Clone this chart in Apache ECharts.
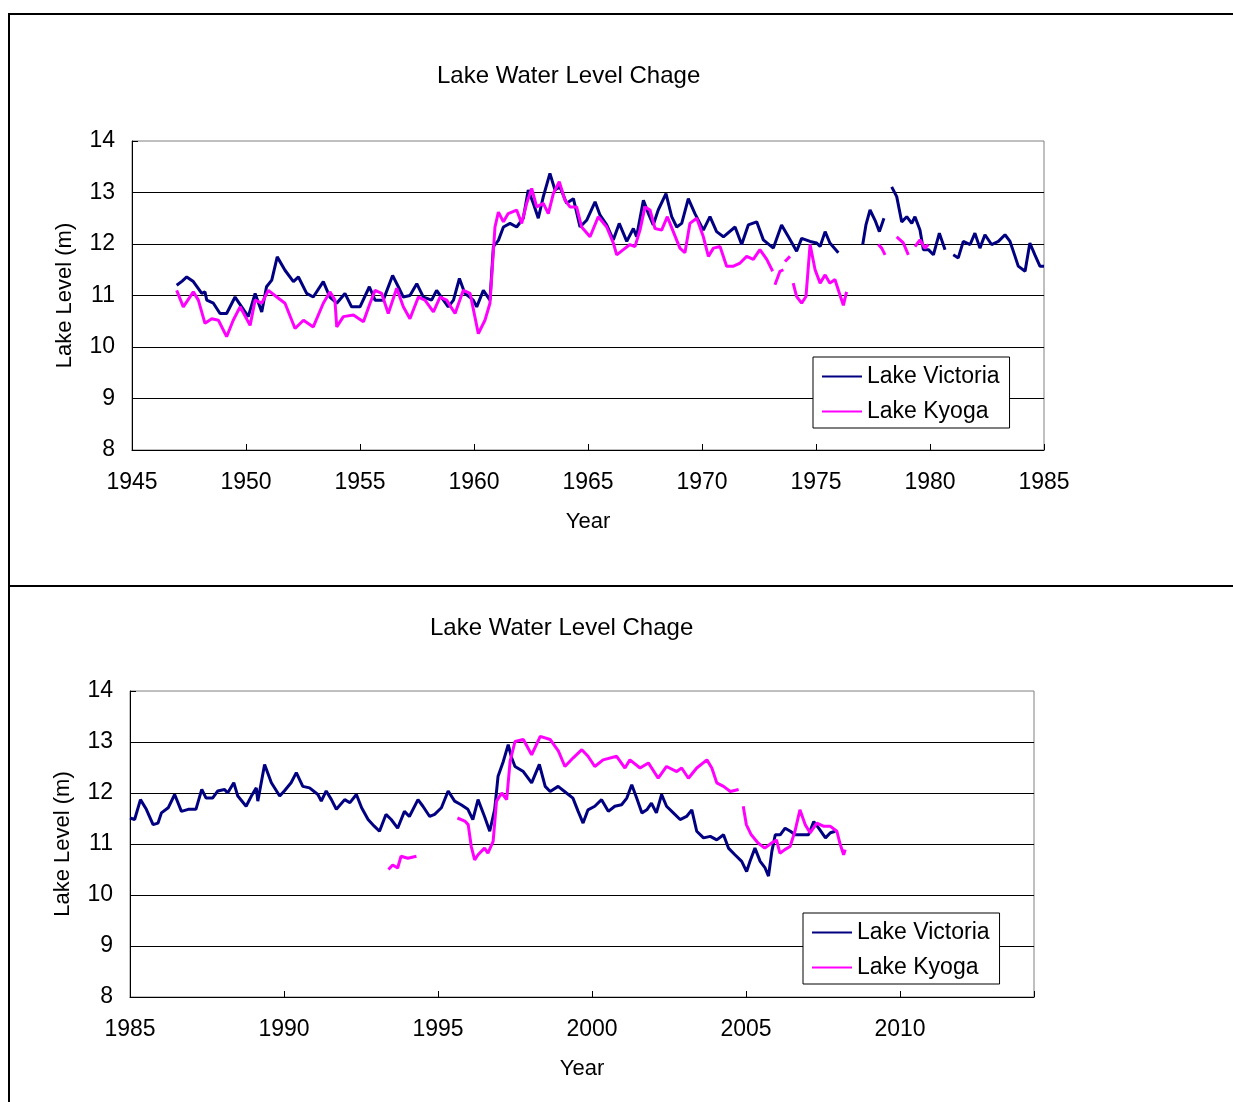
<!DOCTYPE html>
<html>
<head>
<meta charset="utf-8">
<title>Lake Water Level Chage</title>
<script src="https://cdn.jsdelivr.net/npm/echarts@6.0.0/dist/echarts.min.js"></script>
<style>
  html, body { margin: 0; padding: 0; background: #fff; }
  #wrap { position: relative; width: 1233px; height: 1102px; overflow: hidden; }
  .frame { position: absolute; left: 8px; width: 1300px; border-top: 2px solid #000; border-left: 2px solid #000; }
  #chart { position: absolute; left: 0; top: 0; width: 1233px; height: 1102px; }
</style>
</head>
<body>
<div id="wrap">
  <div class="frame" style="top:13px;height:572px"></div>
  <div class="frame" style="top:585px;height:600px"></div>
  <div id="chart"></div>
</div>
<script>
// 1947 - 1985
const victoriaA = [
  [1946.96, 11.20], [1947.2, 11.28], [1947.4, 11.36], [1947.69, 11.27], [1948.06, 11.04], [1948.2, 11.07],
  [1948.28, 10.91], [1948.57, 10.85], [1948.86, 10.65], [1949.15, 10.65], [1949.52, 10.97], [1949.81, 10.78],
  [1950.1, 10.59], [1950.4, 11.04], [1950.69, 10.68], [1950.9, 11.17], [1951.13, 11.30], [1951.37, 11.75],
  [1951.71, 11.49], [1952.08, 11.27], [1952.3, 11.36], [1952.66, 11.04], [1952.95, 10.97], [1953.39, 11.27],
  [1953.68, 10.97], [1953.98, 10.85], [1954.34, 11.04], [1954.63, 10.78], [1955.0, 10.78], [1955.41, 11.17],
  [1955.66, 10.91], [1956.02, 10.91], [1956.43, 11.39], [1956.68, 11.17], [1956.9, 10.97], [1957.19, 11.0],
  [1957.49, 11.23], [1957.78, 10.97], [1958.14, 10.91], [1958.36, 11.10], [1958.66, 10.91], [1958.87, 10.78],
  [1959.1, 10.91], [1959.36, 11.33], [1959.6, 11.04], [1959.97, 10.91], [1960.12, 10.78], [1960.41, 11.10],
  [1960.7, 10.91], [1960.85, 11.95], [1961.07, 12.07], [1961.29, 12.33], [1961.58, 12.40], [1961.87, 12.33],
  [1962.16, 12.50], [1962.38, 13.05], [1962.6, 12.79], [1962.82, 12.50], [1963.04, 12.92], [1963.33, 13.37],
  [1963.55, 13.05], [1963.77, 13.11], [1964.06, 12.79], [1964.36, 12.88], [1964.65, 12.33], [1964.94, 12.46],
  [1965.31, 12.82], [1965.53, 12.56], [1965.82, 12.37], [1966.11, 12.08], [1966.37, 12.40], [1966.7, 12.05],
  [1966.99, 12.30], [1967.13, 12.14], [1967.43, 12.85], [1967.65, 12.59], [1967.86, 12.37], [1968.08, 12.66],
  [1968.42, 12.98], [1968.67, 12.53], [1968.89, 12.33], [1969.11, 12.40], [1969.4, 12.88], [1969.69, 12.59],
  [1970.06, 12.27], [1970.35, 12.53], [1970.64, 12.24], [1970.94, 12.14], [1971.45, 12.33], [1971.74, 11.99],
  [1972.03, 12.37], [1972.4, 12.43], [1972.69, 12.08], [1973.13, 11.92], [1973.49, 12.37], [1973.79, 12.14],
  [1974.15, 11.86], [1974.37, 12.11], [1974.74, 12.05], [1975.03, 12.02], [1975.18, 11.95], [1975.4, 12.24],
  [1975.61, 12.02], [1975.98, 11.83], [1976.5, null],
  [1977.05, 11.99], [1977.19, 12.37], [1977.37, 12.66], [1977.59, 12.46], [1977.78, 12.24], [1977.98, 12.50],
  [1978.15, null],
  [1978.32, 13.11], [1978.54, 12.92], [1978.76, 12.43], [1978.98, 12.53], [1979.2, 12.40], [1979.34, 12.53],
  [1979.56, 12.27], [1979.71, 11.89], [1979.93, 11.89], [1980.15, 11.79], [1980.41, 12.21], [1980.66, 11.89],
  [1980.85, null],
  [1981.02, 11.79], [1981.24, 11.73], [1981.46, 12.05], [1981.76, 11.99], [1981.97, 12.21], [1982.19, 11.92],
  [1982.41, 12.18], [1982.7, 11.99], [1983.0, 12.05], [1983.29, 12.18], [1983.51, 12.05], [1983.73, 11.76],
  [1983.87, 11.57], [1984.17, 11.47], [1984.38, 12.02], [1984.6, 11.79], [1984.82, 11.57], [1985.0, 11.57]
]

const kyogaA = [
  [1946.96, 11.10], [1947.25, 10.78], [1947.69, 11.07], [1947.91, 10.91], [1948.2, 10.46], [1948.5, 10.55],
  [1948.79, 10.52], [1949.15, 10.20], [1949.44, 10.52], [1949.74, 10.78], [1950.18, 10.42], [1950.4, 10.91],
  [1950.69, 10.85], [1950.98, 11.10], [1951.35, 10.97], [1951.71, 10.85], [1952.15, 10.36], [1952.52, 10.52],
  [1952.95, 10.39], [1953.39, 10.85], [1953.68, 11.07], [1953.9, 10.91], [1953.98, 10.39], [1954.27, 10.59],
  [1954.71, 10.62], [1955.15, 10.49], [1955.44, 10.85], [1955.66, 11.10], [1955.95, 11.04], [1956.24, 10.65],
  [1956.61, 11.14], [1956.9, 10.78], [1957.19, 10.55], [1957.56, 10.97], [1957.85, 10.91], [1958.22, 10.68],
  [1958.51, 10.97], [1958.8, 10.91], [1959.17, 10.65], [1959.53, 11.10], [1959.83, 11.04], [1960.19, 10.26],
  [1960.48, 10.52], [1960.7, 10.85], [1960.92, 12.33], [1961.07, 12.62], [1961.29, 12.43], [1961.5, 12.59],
  [1961.87, 12.66], [1962.09, 12.40], [1962.31, 12.79], [1962.53, 13.08], [1962.75, 12.72], [1963.04, 12.79],
  [1963.26, 12.59], [1963.48, 12.98], [1963.74, 13.21], [1963.99, 12.85], [1964.21, 12.72], [1964.5, 12.72],
  [1964.72, 12.33], [1965.09, 12.14], [1965.45, 12.53], [1965.82, 12.33], [1966.11, 12.02], [1966.26, 11.79],
  [1966.55, 11.89], [1966.84, 11.99], [1967.06, 11.95], [1967.28, 12.27], [1967.5, 12.72], [1967.72, 12.66],
  [1967.94, 12.30], [1968.23, 12.27], [1968.48, 12.53], [1968.74, 12.24], [1969.03, 11.92], [1969.25, 11.83],
  [1969.47, 12.40], [1969.77, 12.50], [1970.06, 12.14], [1970.28, 11.76], [1970.5, 11.92], [1970.79, 11.95],
  [1971.08, 11.57], [1971.38, 11.57], [1971.67, 11.63], [1971.96, 11.76], [1972.25, 11.70], [1972.54, 11.89],
  [1972.84, 11.70], [1973.1, 11.47], [1973.15, null],
  [1973.2, 11.21], [1973.42, 11.47], [1973.57, 11.50], [1973.6, null],
  [1973.64, 11.66], [1973.86, 11.76], [1973.93, null],
  [1974.0, 11.24], [1974.15, 10.98], [1974.37, 10.85], [1974.56, 10.98], [1974.74, 11.99], [1974.96, 11.50],
  [1975.18, 11.24], [1975.4, 11.40], [1975.61, 11.24], [1975.83, 11.31], [1976.05, 11.01], [1976.2, 10.81],
  [1976.34, 11.07], [1977.0, null],
  [1977.73, 11.99], [1977.88, 11.92], [1978.03, 11.79], [1978.3, null],
  [1978.54, 12.14], [1978.83, 12.02], [1979.05, 11.79], [1979.2, null],
  [1979.34, 11.95], [1979.56, 12.08], [1979.78, 11.92], [1979.93, 11.99]
]

// 1985 - 2008
const victoriaB = [
  [1985.0, 11.51], [1985.15, 11.48], [1985.34, 11.87], [1985.53, 11.68], [1985.75, 11.38], [1985.91, 11.41],
  [1986.02, 11.61], [1986.24, 11.71], [1986.45, 11.97], [1986.67, 11.64], [1986.89, 11.68], [1987.14, 11.68],
  [1987.33, 12.07], [1987.47, 11.90], [1987.68, 11.90], [1987.85, 12.04], [1988.07, 12.07], [1988.17, 12.0],
  [1988.37, 12.20], [1988.5, 11.94], [1988.77, 11.74], [1988.94, 11.94], [1989.1, 12.10], [1989.15, 11.84],
  [1989.37, 12.56], [1989.59, 12.20], [1989.86, 11.94], [1990.01, 12.04], [1990.23, 12.20], [1990.4, 12.40],
  [1990.61, 12.13], [1990.83, 12.10], [1991.1, 11.97], [1991.21, 11.84], [1991.37, 12.04], [1991.54, 11.87],
  [1991.7, 11.68], [1991.97, 11.87], [1992.14, 11.81], [1992.35, 11.97], [1992.52, 11.71], [1992.73, 11.48],
  [1992.93, 11.35], [1993.1, 11.25], [1993.31, 11.58], [1993.48, 11.48], [1993.69, 11.31], [1993.91, 11.64],
  [1994.07, 11.54], [1994.35, 11.87], [1994.51, 11.74], [1994.73, 11.54], [1994.89, 11.58], [1995.11, 11.71],
  [1995.33, 12.04], [1995.54, 11.84], [1995.75, 11.77], [1995.97, 11.68], [1996.13, 11.48], [1996.3, 11.87],
  [1996.51, 11.54], [1996.68, 11.25], [1996.84, 11.68], [1996.95, 12.33], [1997.12, 12.62], [1997.28, 12.95],
  [1997.39, 12.69], [1997.5, 12.52], [1997.77, 12.42], [1998.04, 12.20], [1998.29, 12.56], [1998.48, 12.13],
  [1998.64, 12.03], [1998.9, 12.13], [1999.17, 12.0], [1999.38, 11.90], [1999.55, 11.64], [1999.71, 11.41],
  [1999.87, 11.67], [2000.09, 11.74], [2000.31, 11.87], [2000.53, 11.64], [2000.74, 11.74], [2000.96, 11.77],
  [2001.13, 11.90], [2001.29, 12.16], [2001.45, 11.90], [2001.62, 11.61], [2001.78, 11.67], [2001.93, 11.80],
  [2002.09, 11.61], [2002.26, 11.97], [2002.42, 11.74], [2002.64, 11.61], [2002.86, 11.48], [2003.07, 11.54],
  [2003.24, 11.67], [2003.4, 11.25], [2003.62, 11.12], [2003.84, 11.15], [2004.05, 11.08], [2004.27, 11.18],
  [2004.43, 10.92], [2004.64, 10.79], [2004.86, 10.66], [2005.02, 10.46], [2005.13, 10.66], [2005.29, 10.92],
  [2005.46, 10.66], [2005.62, 10.53], [2005.73, 10.37], [2005.84, 10.86], [2005.95, 11.18], [2006.11, 11.18],
  [2006.27, 11.31], [2006.44, 11.25], [2006.6, 11.18], [2006.82, 11.18], [2007.03, 11.18], [2007.2, 11.44],
  [2007.36, 11.31], [2007.58, 11.12], [2007.74, 11.22], [2007.9, 11.25]
]

const kyogaB = [
  [1993.39, 10.50], [1993.53, 10.59], [1993.69, 10.53], [1993.8, 10.76], [1994.02, 10.72], [1994.3, 10.76],
  [1994.6, null],
  [1995.63, 11.51], [1995.87, 11.45], [1995.98, 11.38], [1996.08, 10.95], [1996.19, 10.69], [1996.3, 10.79],
  [1996.51, 10.92], [1996.62, 10.82], [1996.79, 11.05], [1996.9, 11.84], [1997.07, 12.0], [1997.23, 11.87],
  [1997.34, 12.62], [1997.5, 13.01], [1997.77, 13.05], [1998.04, 12.75], [1998.32, 13.11], [1998.64, 13.05],
  [1998.91, 12.82], [1999.12, 12.52], [1999.39, 12.69], [1999.67, 12.85], [1999.87, 12.72], [2000.09, 12.52],
  [2000.36, 12.65], [2000.8, 12.72], [2001.07, 12.49], [2001.23, 12.65], [2001.56, 12.49], [2001.83, 12.59],
  [2002.15, 12.29], [2002.42, 12.52], [2002.75, 12.42], [2002.91, 12.49], [2003.13, 12.29], [2003.4, 12.49],
  [2003.73, 12.65], [2003.89, 12.49], [2004.05, 12.20], [2004.27, 12.13], [2004.49, 12.03], [2004.76, 12.07],
  [2004.85, null],
  [2004.91, 11.74], [2005.01, 11.38], [2005.17, 11.18], [2005.39, 11.02], [2005.61, 10.92], [2005.83, 11.02],
  [2005.99, 11.08], [2006.1, 10.82], [2006.26, 10.89], [2006.43, 10.95], [2006.59, 11.25], [2006.75, 11.67],
  [2006.92, 11.38], [2007.08, 11.22], [2007.3, 11.41], [2007.51, 11.35], [2007.73, 11.35], [2007.95, 11.25],
  [2008.06, 10.99], [2008.17, 10.79], [2008.22, 10.89]
]

const seriesNames = ['Lake Victoria', 'Lake Kyoga']
const titleText = 'Lake Water Level Chage'
const yTicks = { min: 8, max: 14, interval: 1 }

const FONT = "'Liberation Sans', Arial, sans-serif"
const COLORS = ['#000080', '#ff00ff']

// null -> '-' so the line breaks
const toData = (rows) => rows.map(([x, y]) => [x, y === null ? '-' : y])

const textStyle = { fontFamily: FONT, fontSize: 23, color: '#000' }

const getXAxis = (gridIndex, min, max) => ({
  type: 'value',
  gridIndex,
  min,
  max,
  interval: 5,
  name: 'Year',
  nameLocation: 'middle',
  nameGap: 61,
  nameTextStyle: { ...textStyle, fontSize: 22 },
  axisLine: { onZero: false, lineStyle: { color: '#000', width: 1 } },
  axisTick: { inside: true, length: 6, lineStyle: { color: '#000' } },
  axisLabel: {
    ...textStyle,
    margin: 21,
    // 2014.35 is only the axis end, no label there
    formatter: (v) => (v % 5 === 0 ? String(v) : '')
  },
  splitLine: { show: false }
})

const getYAxis = (gridIndex) => ({
  type: 'value',
  gridIndex,
  ...yTicks,
  name: 'Lake Level (m)',
  nameLocation: 'middle',
  nameRotate: 90,
  nameGap: 56,
  nameTextStyle: { ...textStyle, fontSize: 22 },
  axisLine: { show: true, lineStyle: { color: '#000', width: 1 } },
  axisTick: { show: true, inside: true, length: 6, lineStyle: { color: '#000' } },
  axisLabel: { ...textStyle, margin: 17 },
  splitLine: { show: true, showMaxLine: false, lineStyle: { color: '#000', width: 1 } }
})

const getLegend = (left, top) => ({
  orient: 'vertical',
  left,
  top,
  data: seriesNames,
  icon: 'rect',
  itemWidth: 40,
  itemHeight: 2,
  itemGap: 12,
  padding: [8, 10, 5, 9],
  backgroundColor: '#fff',
  borderColor: '#000',
  borderWidth: 1,
  borderRadius: 0,
  textStyle: { ...textStyle, lineHeight: 23 }
})

const getLine = (name, data, idx, colorIdx) => ({
  name,
  type: 'line',
  xAxisIndex: idx,
  yAxisIndex: idx,
  data: toData(data),
  showSymbol: false,
  symbol: 'none',
  connectNulls: false,
  color: COLORS[colorIdx],
  lineStyle: { width: 3, color: COLORS[colorIdx] }
})

const chart = echarts.init(document.getElementById('chart'), null, { renderer: 'canvas' })

const titleStyle = { ...textStyle, fontSize: 24, fontWeight: 'normal' }

chart.setOption({
  animation: false,
  backgroundColor: 'transparent',
  title: [
    { text: titleText, left: 437, top: 64, padding: 0, textStyle: titleStyle },
    { text: titleText, left: 430, top: 616, padding: 0, textStyle: titleStyle }
  ],
  legend: [getLegend(813, 357), getLegend(803, 913)],
  grid: [
    { left: 132, top: 141, width: 912, height: 309, show: true, borderColor: '#808080', borderWidth: 1 },
    { left: 130, top: 691, width: 904, height: 306, show: true, borderColor: '#808080', borderWidth: 1 }
  ],
  xAxis: [getXAxis(0, 1945, 1985), getXAxis(1, 1985, 2014.35)],
  yAxis: [getYAxis(0), getYAxis(1)],
  series: [
    getLine(seriesNames[0], victoriaA, 0, 0),
    getLine(seriesNames[1], kyogaA, 0, 1),
    getLine(seriesNames[0], victoriaB, 1, 0),
    getLine(seriesNames[1], kyogaB, 1, 1)
  ]
})
</script>
</body>
</html>
